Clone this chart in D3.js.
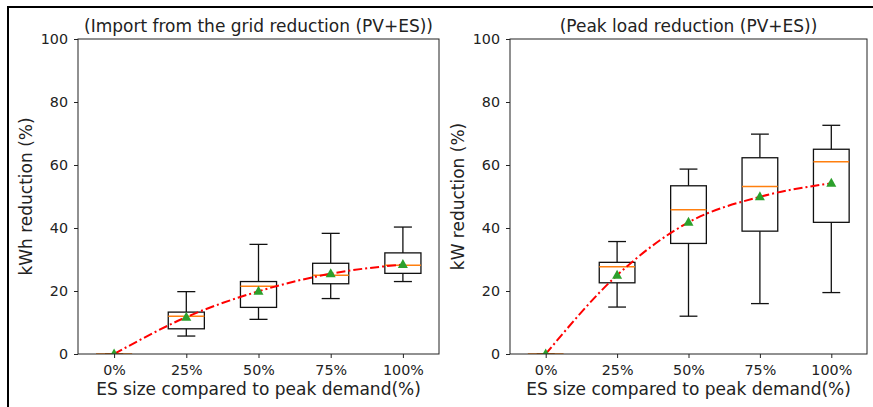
<!DOCTYPE html>
<html>
<head>
<meta charset="utf-8">
<script src="https://cdn.jsdelivr.net/npm/d3@7"></script>
<style>
  body { margin: 0; background: #fff; }
  svg text { font-family: "DejaVu Sans", sans-serif; fill: #222; }
</style>
</head>
<body>
<div id="chart"></div>
<script>
const categories = ["0%", "25%", "50%", "75%", "100%"];
const yTicks = [0, 20, 40, 60, 80, 100];

// Import from the grid reduction
const importLow = [0, 5.7, 11.0, 17.6, 23.0];
const importQ1 = [0, 8.0, 14.8, 22.3, 25.6];
const importMedian = [0, 12.0, 21.5, 25.0, 28.2];
const importQ3 = [0, 13.3, 23.0, 28.8, 32.1];
const importHigh = [0, 19.8, 34.8, 38.3, 40.3];
const importMean = [0, 11.7, 19.9, 25.5, 28.4];

// Peak load reduction
const peakLow = [0, 14.9, 12.0, 16.0, 19.5];
const peakQ1 = [0, 22.6, 35.1, 39.0, 41.8];
const peakMedian = [0, 27.7, 45.8, 53.2, 61.0];
const peakQ3 = [0, 29.1, 53.4, 62.3, 65.0];
const peakHigh = [0, 35.7, 58.7, 69.8, 72.6];
const peakMean = [0, 25.0, 41.8, 49.9, 54.2];

const width = 873, height = 407;
const svg = d3.select("#chart").append("svg")
  .attr("width", width).attr("height", height);

// outer frame (top and left edges)
svg.append("path")
  .attr("d", `M8,${height} L8,7 L${width},7`)
  .attr("fill", "none").attr("stroke", "#000").attr("stroke-width", 2);

const panels = [
  {left: 78, right: 439, title: "(Import from the grid reduction (PV+ES))", ylabel: "kWh reduction (%)",
   low: importLow, q1: importQ1, med: importMedian, q3: importQ3, high: importHigh, mean: importMean},
  {left: 510, right: 867, title: "(Peak load reduction (PV+ES))", ylabel: "kW reduction (%)",
   low: peakLow, q1: peakQ1, med: peakMedian, q3: peakQ3, high: peakHigh, mean: peakMean}
];
const plotTop = 39, plotBottom = 354;

panels.forEach((p, pi) => {
  const w = p.right - p.left, h = plotBottom - plotTop;
  const g = svg.append("g").attr("transform", `translate(${p.left},${plotTop})`);

  const x = d3.scaleLinear().domain([0.5, 5.5]).range([0, w]);
  const y = d3.scaleLinear().domain([0, 100]).range([h, 0]);
  const unit = x(2) - x(1);

  g.append("clipPath").attr("id", "clip" + pi)
    .append("rect").attr("width", w).attr("height", h);

  const yAxis = g.append("g")
    .call(d3.axisLeft(y).tickValues(yTicks).tickSize(4).tickPadding(6));
  const xAxis = g.append("g").attr("transform", `translate(0,${h})`)
    .call(d3.axisBottom(x).tickValues([1, 2, 3, 4, 5]).tickFormat((d, i) => categories[i]).tickSize(4).tickPadding(7));
  [xAxis, yAxis].forEach(a => {
    a.select(".domain").remove();
    a.selectAll("line").attr("stroke", "#222");
    a.selectAll("text").style("font-size", "14.3px").attr("fill", "#222");
  });

  const plot = g.append("g").attr("clip-path", `url(#clip${pi})`);

  categories.forEach((c, i) => {
    const cx = x(i + 1);
    const bw = unit * 0.5, cw = unit * 0.25;
    const bg = plot.append("g").attr("stroke", "#111").attr("stroke-width", 1.3).attr("fill", "none");
    bg.append("line").attr("x1", cx).attr("x2", cx).attr("y1", y(p.low[i])).attr("y2", y(p.q1[i]));
    bg.append("line").attr("x1", cx).attr("x2", cx).attr("y1", y(p.q3[i])).attr("y2", y(p.high[i]));
    bg.append("line").attr("x1", cx - cw / 2).attr("x2", cx + cw / 2).attr("y1", y(p.low[i])).attr("y2", y(p.low[i]));
    bg.append("line").attr("x1", cx - cw / 2).attr("x2", cx + cw / 2).attr("y1", y(p.high[i])).attr("y2", y(p.high[i]));
    bg.append("rect").attr("x", cx - bw / 2).attr("width", bw)
      .attr("y", y(p.q3[i])).attr("height", Math.max(0, y(p.q1[i]) - y(p.q3[i])));
    plot.append("line").attr("x1", cx - bw / 2).attr("x2", cx + bw / 2)
      .attr("y1", y(p.med[i])).attr("y2", y(p.med[i]))
      .attr("stroke", "#ff7f0e").attr("stroke-width", 1.5);
  });

  const line = d3.line().x((d, i) => x(i + 1)).y(d => y(d)).curve(d3.curveMonotoneX);
  plot.append("path").datum(p.mean).attr("d", line)
    .attr("fill", "none").attr("stroke", "#ff0000").attr("stroke-width", 2)
    .attr("stroke-dasharray", "9,3,2,3");

  plot.selectAll(".mean").data(p.mean).enter().append("path")
    .attr("transform", (d, i) => `translate(${x(i + 1)},${y(d)})`)
    .attr("d", "M0,-5.5L5,3.5L-5,3.5Z").attr("fill", "#2ca02c");

  // frame
  g.append("rect").attr("width", w).attr("height", h)
    .attr("fill", "none").attr("stroke", "#222").attr("stroke-width", 1);

  g.append("text").attr("x", w / 2).attr("y", -7).attr("text-anchor", "middle")
    .style("font-size", "17px").text(p.title);
  g.append("text").attr("x", w / 2).attr("y", h + 41).attr("text-anchor", "middle")
    .style("font-size", "17px").text("ES size compared to peak demand(%)");
  g.append("text").attr("transform", `translate(${-46},${h / 2}) rotate(-90)`)
    .attr("text-anchor", "middle").style("font-size", "17px").text(p.ylabel);
});
</script>
</body>
</html>
